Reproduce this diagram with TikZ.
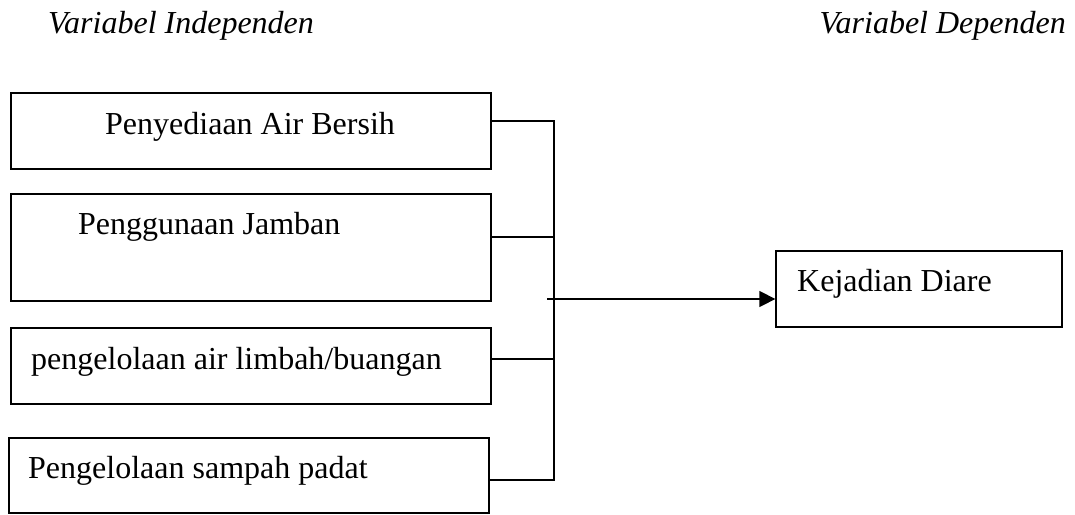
\documentclass[tikz,border=0pt]{standalone}
\usepackage{fontspec}
\setmainfont{Liberation Serif}
\usetikzlibrary{arrows.meta}
\begin{document}
\begin{tikzpicture}[x=1pt,y=-1pt,
  box/.style={draw, line width=1.3pt, rectangle, inner sep=0pt},
  lbl/.style={anchor=base west, inner sep=0pt, font=\fontsize{32}{38}\selectfont},
  hdr/.style={inner sep=0pt, font=\fontsize{32}{38}\selectfont\itshape},
  wire/.style={line width=1.3pt},
  arr/.style={line width=1.3pt, -{Triangle[length=16pt,width=16pt]}}]
\useasboundingbox (0,0) rectangle (1075,514);

% column headings
\node[hdr, anchor=base west] (hin) at (48,33) {Variabel Independen};
\node[hdr, anchor=base east] (hde) at (1066,33) {Variabel Dependen};

% independent variable boxes
\node[box, minimum width=480pt, minimum height=76pt]  (b1) at (251,131)   {};
\node[box, minimum width=480pt, minimum height=107pt] (b2) at (251,247.5) {};
\node[box, minimum width=480pt, minimum height=76pt]  (b3) at (251,366)   {};
\node[box, minimum width=480pt, minimum height=75pt]  (b4) at (249,475.5) {};

\node[lbl] (t1) at (105,134) {Penyediaan Air Bersih};
\node[lbl] (t2) at (78,234)  {Penggunaan Jamban};
\node[lbl] (t3) at (31,369)  {pengelolaan air limbah/buangan};
\node[lbl] (t4) at (28,478)  {Pengelolaan sampah padat};

% dependent variable box
\node[box, minimum width=286pt, minimum height=76pt] (dv) at (919,289) {};
\node[lbl] (t5) at (797,291) {Kejadian Diare};

% collecting bus
\coordinate (busT) at (554,121);
\coordinate (busB) at (554,480);
\coordinate (src)  at (547,299);

\draw[wire] ([yshift=10pt]b1.east) -- (busT) -- (busB) -- ([yshift=-4.5pt]b4.east);
\draw[wire] ([yshift=10.5pt]b2.east) -- ([yshift=10.5pt]b2.east -| busT);
\draw[wire] ([yshift=7pt]b3.east) -- ([yshift=7pt]b3.east -| busT);

% arrow to the dependent variable
\draw[arr] (src) -- (src -| dv.west);
\end{tikzpicture}
\end{document}
